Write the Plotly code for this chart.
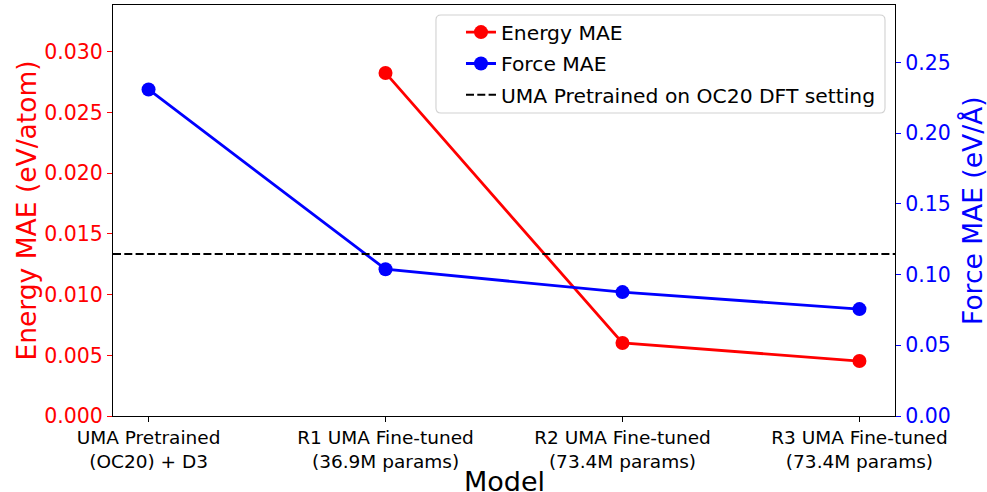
import plotly.graph_objects as go

# Models compared
models = [
    "UMA Pretrained<br>(OC20) + D3",
    "R1 UMA Fine-tuned<br>(36.9M params)",
    "R2 UMA Fine-tuned<br>(73.4M params)",
    "R3 UMA Fine-tuned<br>(73.4M params)",
]

# Mean absolute errors per model (no energy value for the pretrained model)
energy_mae = [None, 0.02827, 0.00602, 0.00453]   # eV/atom
force_mae = [0.2309, 0.1038, 0.0876, 0.0756]     # eV/Å

# Reference energy MAE of UMA pretrained on OC20 DFT setting
baseline_energy = 0.01335

energy_ticks = [0.000, 0.005, 0.010, 0.015, 0.020, 0.025, 0.030]
force_ticks = [0.00, 0.05, 0.10, 0.15, 0.20, 0.25]

RED = "#ff0000"
BLUE = "#0000ff"
FONT = "DejaVu Sans"

fig = go.Figure()

fig.add_trace(go.Scatter(
    x=models, y=energy_mae, name="Energy MAE", mode="lines+markers",
    line=dict(color=RED, width=2.8), marker=dict(color=RED, size=14),
    legendgroup="e", xaxis="x", yaxis="y",
))
fig.add_trace(go.Scatter(
    x=models, y=force_mae, name="Force MAE", mode="lines+markers",
    line=dict(color=BLUE, width=2.8), marker=dict(color=BLUE, size=14),
    legendgroup="f", xaxis="x", yaxis="y2",
))
fig.add_trace(go.Scatter(
    x=[0, 1], y=[baseline_energy, baseline_energy],
    name="UMA Pretrained on OC20 DFT setting", mode="lines",
    line=dict(color="black", width=2, dash="8px,3.3px"),
    legendgroup="b", xaxis="x2", yaxis="y",
))

n = len(models)
pad = 0.05 * (n - 1)

# Rounded legend frame in paper coordinates
x0, x1 = 0.4130, 0.9872
y0, y1 = 0.7372, 0.9757
rx, ry = 5 / 782, 5 / 411
frame = (
    f"M{x0+rx},{y1} L{x1-rx},{y1} Q{x1},{y1} {x1},{y1-ry} "
    f"L{x1},{y0+ry} Q{x1},{y0} {x1-rx},{y0} "
    f"L{x0+rx},{y0} Q{x0},{y0} {x0},{y0+ry} "
    f"L{x0},{y1-ry} Q{x0},{y1} {x0+rx},{y1} Z"
)

fig.update_layout(
    width=987, height=492,
    margin=dict(l=113, r=92, t=5, b=76),
    paper_bgcolor="white", plot_bgcolor="white",
    font=dict(family=FONT, color="black"),
    showlegend=True,
    legend=dict(
        x=0.445, y=0.982, xanchor="left", yanchor="top",
        bgcolor="rgba(0,0,0,0)", borderwidth=0,
        font=dict(family=FONT, size=20.3, color="black"),
        traceorder="grouped", tracegroupgap=2,
    ),
    xaxis=dict(
        type="category", range=[-pad, n - 1 + pad],
        showgrid=False, zeroline=False,
        showline=True, linecolor="black", linewidth=1.1, mirror=True,
        ticks="outside", ticklen=5, tickwidth=1.1, tickcolor="black",
        tickfont=dict(family=FONT, size=18.5, color="black"),
    ),
    xaxis2=dict(range=[0, 1], overlaying="x", visible=False),
    yaxis=dict(
        range=[0, 0.03387], tickvals=energy_ticks,
        ticktext=[f"{v:.3f}" for v in energy_ticks],
        showgrid=False, zeroline=False,
        showline=True, linecolor="black", linewidth=1.1,
        ticks="outside", ticklen=5, tickwidth=1.1, tickcolor=RED,
        tickfont=dict(family=FONT, size=20.5, color=RED),
    ),
    yaxis2=dict(
        range=[0, 0.2906], tickvals=force_ticks,
        ticktext=[f"{v:.2f}" for v in force_ticks],
        overlaying="y", side="right", anchor="x",
        showgrid=False, zeroline=False,
        showline=True, linecolor="black", linewidth=1.1,
        ticks="outside", ticklen=5, tickwidth=1.1, tickcolor=BLUE,
        tickfont=dict(family=FONT, size=20.5, color=BLUE),
    ),
    shapes=[dict(
        type="path", path=frame, xref="paper", yref="paper",
        line=dict(color="rgba(204,204,204,0.9)", width=1.1),
        fillcolor="rgba(255,255,255,0.8)", layer="above",
    )],
    annotations=[
        dict(text="Energy MAE (eV/atom)", xref="paper", yref="paper",
             x=-0.11, y=0.5, xanchor="center", yanchor="middle",
             textangle=-90, showarrow=False,
             font=dict(family=FONT, size=26.5, color=RED)),
        dict(text="Force MAE (eV/Å)", xref="paper", yref="paper",
             x=1.099, y=0.5, xanchor="center", yanchor="middle",
             textangle=-90, showarrow=False,
             font=dict(family=FONT, size=26.5, color=BLUE)),
        dict(text="Model", xref="paper", yref="paper",
             x=0.5, y=0, xanchor="center", yanchor="top", yshift=-48,
             showarrow=False,
             font=dict(family=FONT, size=27, color="black")),
    ],
)

fig.write_html("out.html")
